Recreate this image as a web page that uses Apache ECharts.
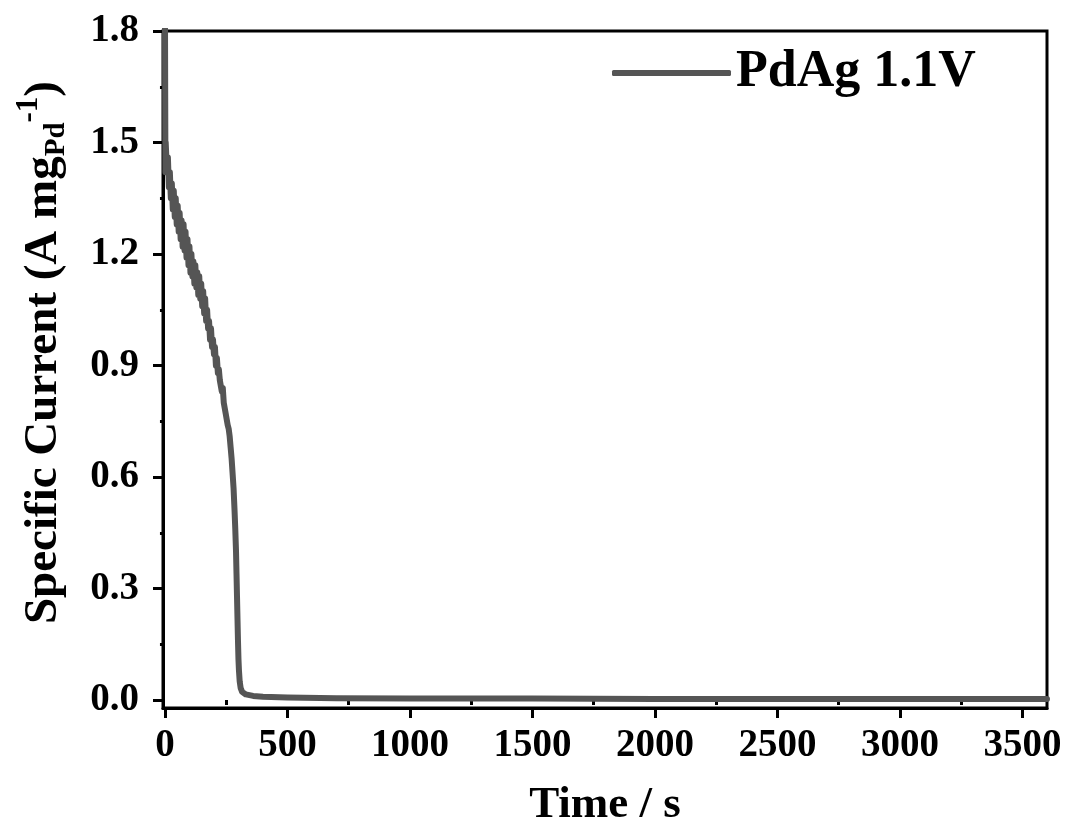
<!DOCTYPE html>
<html>
<head>
<meta charset="utf-8">
<title>PdAg 1.1V</title>
<script src="https://cdn.jsdelivr.net/npm/echarts@6/dist/echarts.min.js"></script>
<style>
  html, body { margin: 0; padding: 0; background: #fff; }
  #chart { width: 1067px; height: 827px; }
</style>
</head>
<body>
<div id="chart"></div>
<script>
// time (s) and specific current (A mg_Pd^-1)
var timeData = [0, 1, 2, 3, 5, 8, 12, 16, 20, 24, 28, 32, 36, 40, 44, 48, 52, 56, 60,
	64, 68, 72, 76, 80, 84, 88, 92, 96, 100,
	104, 108, 112, 116, 120, 124, 128, 132, 136, 140, 144, 148,
	152, 156, 160, 164, 168, 172, 176, 180, 184, 188, 192, 196, 200, 204, 208, 212, 216, 220,
	224, 228, 232, 236, 240, 244, 248, 252, 256, 260, 264, 268, 272, 276, 280, 284, 287, 290,
	292, 294, 296, 298, 300, 302, 305, 309, 315, 330, 360, 400, 500, 700, 1000, 1500, 2000, 2500, 3000, 3600];
var currentData = [1.86, 1.62, 1.42, 1.50, 1.47, 1.43, 1.46, 1.38, 1.42, 1.35, 1.39, 1.32, 1.37, 1.30, 1.35, 1.28, 1.33, 1.26, 1.31,
	1.24, 1.29, 1.22, 1.28, 1.21, 1.26, 1.19, 1.24, 1.17, 1.22,
	1.15, 1.20, 1.14, 1.18, 1.12, 1.17, 1.11, 1.15, 1.09, 1.14, 1.08, 1.12,
	1.06, 1.10, 1.04, 1.08, 1.02, 1.05, 1.00, 1.02, 0.97, 1.00, 0.95, 0.97, 0.93, 0.95, 0.90, 0.92, 0.88, 0.89,
	0.86, 0.86, 0.83, 0.84, 0.80, 0.80, 0.77, 0.77, 0.74, 0.73, 0.71, 0.68, 0.65, 0.61, 0.57, 0.51, 0.46, 0.40,
	0.34, 0.28, 0.22, 0.16, 0.11, 0.08, 0.05, 0.032, 0.022, 0.015, 0.011, 0.009, 0.007, 0.005, 0.004, 0.004, 0.003, 0.003, 0.003, 0.003];

var xMajorTicks = [0, 500, 1000, 1500, 2000, 2500, 3000, 3500];
var xMinorTicks = [250, 750, 1250, 1750, 2250, 2750, 3250];
var yMajorTicks = [0, 0.3, 0.6, 0.9, 1.2, 1.5, 1.8];
var yMinorTicks = [0.15, 0.45, 0.75, 1.05, 1.35, 1.65];

var seriesName = 'PdAg 1.1V';
var lineColor = '#555555';
var font = 'Liberation Serif';

var points = timeData.map(function (t, i) { return [t, currentData[i]]; });

var chart = echarts.init(document.getElementById('chart'));

var xRange = { min: -8, max: 3600 };
var yRange = { min: -0.0215, max: 1.8 };

var option = {
	animation: false,
	backgroundColor: '#fff',
	grid: {
		left: 163, right: 20, top: 31, bottom: 119,
		outerBoundsMode: 'none', containLabel: false,
		show: true, borderColor: '#000', borderWidth: 3
	},
	legend: {
		left: 607, top: 42,
		icon: 'roundRect',
		itemWidth: 119, itemHeight: 6, itemGap: 12,
		itemStyle: { color: lineColor },
		textStyle: { fontFamily: font, fontWeight: 'bold', fontSize: 52, color: '#000', padding: [0, 0, 10, 0] },
		data: [seriesName]
	},
	xAxis: [{
		type: 'value', min: xRange.min, max: xRange.max,
		name: 'Time / s', nameLocation: 'middle', nameGap: 75,
		nameTextStyle: { fontFamily: font, fontWeight: 'bold', fontSize: 45, color: '#000' },
		axisLine: { show: true, onZero: false, lineStyle: { color: '#000', width: 3 } },
		axisTick: { show: true, length: 10, lineStyle: { color: '#000', width: 3 }, customValues: xMajorTicks },
		axisLabel: {
			customValues: xMajorTicks, margin: 18,
			fontFamily: font, fontWeight: 'bold', fontSize: 39, color: '#000',
			formatter: function (v) { return String(v); }
		},
		splitLine: { show: false }
	}, {
		// minor ticks
		type: 'value', min: xRange.min, max: xRange.max, position: 'bottom',
		axisLine: { show: false },
		axisTick: { show: true, length: 5, lineStyle: { color: '#000', width: 3 }, customValues: xMinorTicks },
		axisLabel: { show: false },
		splitLine: { show: false }
	}],
	yAxis: [{
		type: 'value', min: yRange.min, max: yRange.max,
		name: '{first|Specific Current (A mg}{sub|Pd}{sup|-1}{n|)}',
		nameLocation: 'middle', nameGap: 88, nameRotate: 90,
		nameTextStyle: {
			fontFamily: font, fontWeight: 'bold', color: '#000',
			rich: {
				first: { fontFamily: font, fontWeight: 'bold', fontSize: 47, color: '#000', lineHeight: 62, verticalAlign: 'middle', padding: [0, 0, 0, 34] },
				n: { fontFamily: font, fontWeight: 'bold', fontSize: 47, color: '#000', lineHeight: 62, verticalAlign: 'middle' },
				sub: { fontFamily: font, fontWeight: 'bold', fontSize: 29, color: '#000', verticalAlign: 'bottom', lineHeight: 62, padding: [0, 0, 4, 0] },
				sup: { fontFamily: font, fontWeight: 'bold', fontSize: 31, color: '#000', verticalAlign: 'top', lineHeight: 62, padding: [0, 0, 0, 0] }
			}
		},
		axisLine: { show: true, onZero: false, lineStyle: { color: '#000', width: 3 } },
		axisTick: { show: true, length: 10, lineStyle: { color: '#000', width: 3 }, customValues: yMajorTicks },
		axisLabel: {
			customValues: yMajorTicks, margin: 24,
			fontFamily: font, fontWeight: 'bold', fontSize: 39, color: '#000',
			formatter: function (v) { return v.toFixed(1); }
		},
		splitLine: { show: false }
	}, {
		// minor ticks
		type: 'value', min: yRange.min, max: yRange.max, position: 'left', offset: 0,
		axisLine: { show: false },
		axisTick: { show: true, length: 5, lineStyle: { color: '#000', width: 3 }, customValues: yMinorTicks },
		axisLabel: { show: false },
		splitLine: { show: false }
	}],
	series: [{
		name: seriesName,
		type: 'line',
		data: points,
		showSymbol: false,
		symbol: 'none',
		clip: true,
		color: lineColor,
		lineStyle: { color: lineColor, width: 6, cap: 'round', join: 'round' }
	}]
};

chart.setOption(option);
</script>
</body>
</html>
